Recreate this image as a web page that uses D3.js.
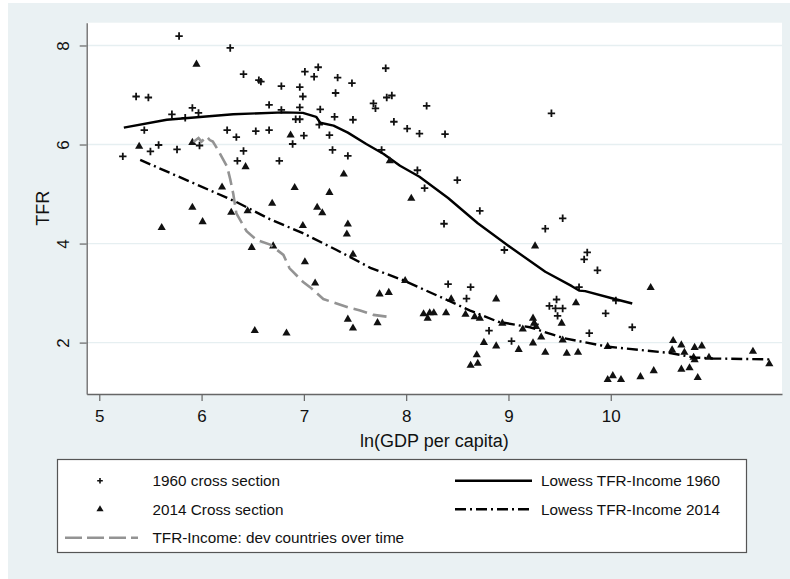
<!DOCTYPE html>
<html>
<head>
<meta charset="utf-8">
<script src="https://cdn.jsdelivr.net/npm/d3@7"></script>
<style>
body { margin: 0; background: #fff; }
text { font-family: "Liberation Sans", Arial, sans-serif; fill: #111; }
</style>
</head>
<body>
<div id="chart"></div>
<script>
// [ln(GDP per capita), TFR]
const cross1960 = [
  [5.78,8.19],[6.28,7.95],[6.41,7.42],[6.56,7.30],[6.58,7.27],[5.36,6.97],[5.48,6.95],[6.66,6.80],
  [5.91,6.74],[5.71,6.61],[5.84,6.54],[5.97,6.64],[5.44,6.29],[6.25,6.29],[6.34,6.15],[6.53,6.27],
  [6.66,6.29],[5.58,5.99],[5.50,5.86],[5.76,5.90],[5.23,5.76],[5.98,5.98],[6.41,5.87],[6.35,5.67],
  [6.78,7.18],[6.96,7.16],[7.01,7.47],[7.10,7.37],[7.14,7.56],[6.99,6.97],[7.33,7.35],[7.31,7.04],
  [7.47,7.24],[6.78,6.70],[6.96,6.75],[7.16,6.71],[6.92,6.51],[6.96,6.51],[7.30,6.56],[7.48,6.50],
  [7.15,6.40],[7.00,6.18],[7.25,6.19],[6.89,6.01],[7.28,5.89],[7.43,5.77],[6.76,5.67],[7.76,5.89],
  [7.68,6.83],[7.70,6.73],[7.80,7.54],[7.81,6.95],[7.86,6.99],[7.88,6.46],[8.20,6.78],[8.01,6.32],
  [8.13,6.22],[8.38,6.21],[8.11,5.48],[8.18,5.12],[9.42,6.63],[8.50,5.28],[8.72,4.66],[8.37,4.40],
  [9.36,4.30],[9.53,4.51],[8.96,3.87],[9.77,3.82],[9.74,3.68],[9.87,3.46],[9.69,3.12],[10.05,2.85],
  [8.41,3.18],[8.63,3.12],[8.59,2.89],[9.47,2.87],[9.40,2.74],[9.46,2.69],[9.53,2.69],[9.48,2.54],
  [9.95,2.59],[8.81,2.24],[9.03,2.03],[9.79,2.19],[9.26,2.37],[10.21,2.31]
];

const cross2014 = [
  [5.95,7.62],[5.39,5.96],[5.91,6.04],[6.43,5.55],[6.20,5.14],[6.69,4.81],[6.87,6.19],[6.91,5.13],
  [7.25,5.03],[7.39,5.40],[5.91,4.73],[6.29,4.63],[6.45,4.66],[6.01,4.44],[5.61,4.32],[7.13,4.73],
  [7.18,4.62],[6.99,4.36],[7.43,4.39],[7.42,4.19],[7.84,5.67],[8.05,4.91],[6.49,3.92],[6.52,2.24],
  [6.70,3.95],[7.48,3.78],[7.01,3.63],[7.11,3.20],[7.99,3.25],[7.74,2.98],[7.83,3.01],[7.43,2.47],
  [7.48,2.29],[7.72,2.40],[6.83,2.19],[8.17,2.58],[8.23,2.60],[8.27,2.60],[8.21,2.49],[8.39,2.60],
  [9.26,3.95],[10.39,3.11],[8.44,2.88],[8.88,2.88],[9.66,2.80],[8.58,2.57],[8.67,2.52],[8.72,2.49],
  [8.94,2.39],[9.14,2.27],[9.24,2.49],[9.25,2.39],[9.27,2.32],[9.52,2.39],[9.32,2.11],[9.53,2.05],
  [9.24,1.99],[8.76,2.00],[8.88,1.93],[9.10,1.86],[9.36,1.80],[9.57,1.78],[9.68,1.80],[9.97,1.92],
  [8.69,1.75],[8.63,1.54],[8.70,1.58],[10.02,1.33],[9.97,1.25],[10.10,1.25],[10.29,1.31],[10.42,1.43],
  [10.61,2.04],[10.60,1.85],[10.69,1.95],[10.72,1.80],[10.82,1.90],[10.89,1.93],[10.81,1.70],[10.82,1.65],
  [10.69,1.46],[10.77,1.49],[10.85,1.29],[10.96,1.70],[11.39,1.82],[11.55,1.57]
];

const lowess1960 = [
  [5.24,6.34],[5.66,6.50],[6.31,6.61],[6.80,6.65],[6.99,6.64],[7.12,6.56],[7.16,6.44],[7.29,6.38],
  [7.43,6.24],[7.61,6.01],[7.78,5.81],[7.94,5.57],[8.13,5.35],[8.41,4.92],[8.70,4.41],[9.03,3.91],
  [9.36,3.43],[9.62,3.14],[9.69,3.05],[9.75,3.04],[10.02,2.89],[10.21,2.79]
];

const lowess2014 = [
  [5.40,5.69],[6.33,4.85],[6.67,4.49],[6.99,4.21],[7.32,3.87],[7.65,3.51],[7.97,3.26],[8.40,2.86],
  [8.62,2.65],[8.90,2.42],[9.21,2.31],[9.54,2.09],[9.96,1.92],[10.58,1.79],[10.81,1.70],[11.00,1.68],
  [11.56,1.66]
];

const devOverTime = [
  [5.92,6.05],[5.97,6.13],[6.00,6.06],[6.05,6.16],[6.08,6.09],[6.11,6.06],[6.16,5.89],[6.25,5.55],
  [6.28,5.30],[6.31,5.00],[6.34,4.61],[6.44,4.25],[6.54,4.07],[6.67,3.98],[6.80,3.77],[6.86,3.50],
  [6.99,3.23],[7.06,3.12],[7.19,2.88],[7.32,2.79],[7.45,2.70],[7.55,2.65],[7.68,2.56],[7.86,2.51]
];

const xTicks = [5, 6, 7, 8, 9, 10];
const yTicks = [2, 4, 6, 8];

const width = 790;
const height = 579;
const plot = { left: 86.7, right: 782, top: 22.7, bottom: 394 };

const x = d3.scaleLinear().domain([4.877, 11.674]).range([plot.left, plot.right]);
const y = d3.scaleLinear().domain([0.962, 8.46]).range([plot.bottom, plot.top]);

const svg = d3.select('#chart').append('svg').attr('width', width).attr('height', height);

// graph region background
svg.append('rect')
  .attr('x', 8).attr('y', 3)
  .attr('width', width - 8).attr('height', height - 3)
  .attr('fill', '#eaf1f3');

// plot region
svg.append('rect')
  .attr('x', plot.left).attr('y', plot.top)
  .attr('width', plot.right - plot.left).attr('height', plot.bottom - plot.top)
  .attr('fill', '#fff');

svg.selectAll('line.grid')
  .data(yTicks)
  .join('line')
  .attr('class', 'grid')
  .attr('x1', plot.left).attr('x2', plot.right)
  .attr('y1', d => y(d)).attr('y2', d => y(d))
  .attr('stroke', '#e6eff1')
  .attr('stroke-width', 1.3);

// axes
const xAxis = svg.append('g')
  .attr('transform', `translate(0,${plot.bottom})`)
  .call(d3.axisBottom(x).tickValues(xTicks).tickSize(7).tickSizeOuter(0).tickFormat(d3.format('d')));
xAxis.select('.domain').attr('stroke', '#666').attr('stroke-width', 1.3);
xAxis.selectAll('.tick line').attr('stroke', '#666').attr('stroke-width', 1.2);
xAxis.selectAll('.tick text').attr('y', 22).attr('dy', '0.35em').style('font-size', '17px');

const yAxis = svg.append('g')
  .attr('transform', `translate(${plot.left},0)`)
  .call(d3.axisLeft(y).tickValues(yTicks).tickSize(7).tickSizeOuter(0).tickFormat(d3.format('d')));
yAxis.select('.domain').attr('stroke', '#666').attr('stroke-width', 1.3);
yAxis.selectAll('.tick line').attr('stroke', '#666').attr('stroke-width', 1.2);
yAxis.selectAll('.tick text')
  .attr('x', 0).attr('dy', '0.35em')
  .attr('text-anchor', 'middle')
  .attr('transform', 'translate(-23.7,0) rotate(-90)')
  .style('font-size', '17px');

// axis titles
svg.append('text')
  .attr('x', (plot.left + plot.right) / 2).attr('y', 441).attr('dy', '0.35em')
  .attr('text-anchor', 'middle')
  .style('font-size', '18px')
  .text('ln(GDP per capita)');

svg.append('text')
  .attr('transform', `translate(42.7,${(plot.top + plot.bottom) / 2}) rotate(-90)`)
  .attr('dy', '0.35em')
  .attr('text-anchor', 'middle')
  .style('font-size', '18px')
  .text('TFR');

// marks
const plusPath = 'M-3.7,0H3.7M0,-3.7V3.7';
const triangle = d3.symbol().type(d3.symbolTriangle).size(29);
const line = d3.line().x(d => x(d[0])).y(d => y(d[1]));

const chart = svg.append('g');

chart.selectAll('path.p1960')
  .data(cross1960)
  .join('path')
  .attr('class', 'p1960')
  .attr('transform', d => `translate(${x(d[0])},${y(d[1])})`)
  .attr('d', plusPath)
  .attr('stroke', '#111')
  .attr('stroke-width', 1.8)
  .attr('fill', 'none');

chart.append('path')
  .datum(lowess1960)
  .attr('d', line)
  .attr('fill', 'none')
  .attr('stroke', '#000')
  .attr('stroke-width', 2.4)
  .attr('stroke-linejoin', 'round');

chart.selectAll('path.p2014')
  .data(cross2014)
  .join('path')
  .attr('class', 'p2014')
  .attr('transform', d => `translate(${x(d[0])},${y(d[1])})`)
  .attr('d', triangle)
  .attr('fill', '#111');

chart.append('path')
  .datum(lowess2014)
  .attr('d', line)
  .attr('fill', 'none')
  .attr('stroke', '#000')
  .attr('stroke-width', 2.4)
  .attr('stroke-dasharray', '11,4,2,4');

chart.append('path')
  .datum(devOverTime)
  .attr('d', line)
  .attr('fill', 'none')
  .attr('stroke', '#939393')
  .attr('stroke-width', 2.6)
  .attr('stroke-dasharray', '14,6');

// legend
const legend = svg.append('g');
legend.append('rect')
  .attr('x', 57.5).attr('y', 459.5)
  .attr('width', 689).attr('height', 93)
  .attr('fill', '#fff')
  .attr('stroke', '#555')
  .attr('stroke-width', 1.2);

const rows = [480.7, 509.3, 537.7];

legend.append('path')
  .attr('transform', `translate(100,${rows[0]})`)
  .attr('d', 'M-2.8,0H2.8M0,-2.8V2.8')
  .attr('stroke', '#111').attr('stroke-width', 1.6);
legend.append('path')
  .attr('transform', `translate(100,${rows[1]})`)
  .attr('d', d3.symbol().type(d3.symbolTriangle).size(22))
  .attr('fill', '#111');
legend.append('line')
  .attr('x1', 65).attr('x2', 138).attr('y1', rows[2]).attr('y2', rows[2])
  .attr('stroke', '#939393').attr('stroke-width', 2.6).attr('stroke-dasharray', '17,5');
legend.append('line')
  .attr('x1', 455).attr('x2', 532).attr('y1', rows[0]).attr('y2', rows[0])
  .attr('stroke', '#000').attr('stroke-width', 2.4);
legend.append('line')
  .attr('x1', 455).attr('x2', 532).attr('y1', rows[1]).attr('y2', rows[1])
  .attr('stroke', '#000').attr('stroke-width', 2.4).attr('stroke-dasharray', '11,4,2,4');

const labels = [
  { text: '1960 cross section', x: 152.5, y: rows[0] },
  { text: '2014 Cross section', x: 152.5, y: rows[1] },
  { text: 'TFR-Income: dev countries over time', x: 152.5, y: rows[2] },
  { text: 'Lowess TFR-Income 1960', x: 541, y: rows[0] },
  { text: 'Lowess TFR-Income 2014', x: 541, y: rows[1] }
];
legend.selectAll('text')
  .data(labels)
  .join('text')
  .attr('x', d => d.x).attr('y', d => d.y).attr('dy', '0.35em')
  .style('font-size', '15.3px')
  .text(d => d.text);
</script>
</body>
</html>
